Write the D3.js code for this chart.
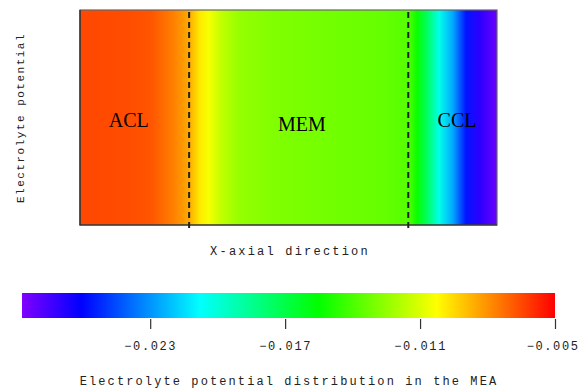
<!DOCTYPE html>
<html>
<head>
<meta charset="utf-8">
<script src="https://cdn.jsdelivr.net/npm/d3@7"></script>
<style>
  body { margin: 0; background: #fff; }
</style>
</head>
<body>
<svg id="chart" width="580" height="389"></svg>
<script>
// positions across the MEA (arbitrary units, ACL | MEM | CCL)
const xPos = [0, 5, 8, 10.5, 12.3, 13.5, 14.5, 16, 18, 22, 28, 34, 37, 38, 39, 40.5, 42, 43.5, 45, 47];
// electrolyte potential at those positions
const potential = [-0.00649, -0.00658, -0.00676, -0.00763, -0.00851, -0.00983, -0.01044, -0.01158,
  -0.01246, -0.01290, -0.01316, -0.01343, -0.01378, -0.01536, -0.01729, -0.02036, -0.02255,
  -0.02563, -0.02694, -0.02826];
const layerBounds = [12.3, 37];
const layerNames = ['ACL', 'MEM', 'CCL'];
const layerCenters = [5.5, 25.0, 42.5];
const potRange = [-0.0287, -0.005];
const cbTicks = [-0.023, -0.017, -0.011, -0.005];

(function() {
  const svg = d3.select('#chart');
  const mono = '"Liberation Mono", "Courier New", monospace';

  // rainbow: violet (low) -> red (high)
  const rainbow = t => d3.hsl(270 * (1 - t), 1, 0.5).formatHex();
  const color = d3.scaleSequential(rainbow).domain(potRange);

  // --- plot area ---
  const L = 80, R = 497, T = 10, B = 225;
  const x = d3.scaleLinear().domain([0, 47]).range([L, R]);

  const defs = svg.append('defs');
  const grad = defs.append('linearGradient').attr('id', 'field')
    .attr('gradientUnits', 'userSpaceOnUse')
    .attr('x1', L).attr('x2', R).attr('y1', 0).attr('y2', 0);
  grad.selectAll('stop').data(xPos).join('stop')
    .attr('offset', d => (x(d) - L) / (R - L))
    .attr('stop-color', (d, i) => color(potential[i]));

  svg.append('rect')
    .attr('x', L).attr('y', T).attr('width', R - L).attr('height', B - T)
    .attr('fill', 'url(#field)');

  // frame
  svg.append('rect')
    .attr('x', L).attr('y', T).attr('width', R - L).attr('height', B - T)
    .attr('fill', 'none').attr('stroke', '#666').attr('stroke-width', 1.2);
  svg.append('path')
    .attr('d', `M${L},${T}V${B}H${R}`)
    .attr('fill', 'none').attr('stroke', '#222').attr('stroke-width', 1.2);

  // layer boundaries
  svg.selectAll('line.bound').data(layerBounds).join('line')
    .attr('class', 'bound')
    .attr('x1', d => x(d)).attr('x2', d => x(d))
    .attr('y1', T + 2).attr('y2', B + 3)
    .attr('stroke', '#222').attr('stroke-width', 2)
    .attr('stroke-dasharray', '6,4');

  svg.selectAll('text.layer').data(layerNames).join('text')
    .attr('class', 'layer')
    .attr('x', (d, i) => x(layerCenters[i]))
    .attr('y', (d, i) => i === 1 ? 131 : 127)
    .attr('text-anchor', 'middle')
    .attr('font-family', '"Liberation Serif", "Times New Roman", serif')
    .attr('font-size', 20)
    .attr('fill', '#000')
    .text(d => d);

  // axis titles
  svg.append('text')
    .attr('transform', 'translate(24,118) rotate(-90)')
    .attr('text-anchor', 'middle')
    .attr('font-family', mono).attr('font-size', 11)
    .attr('letter-spacing', 1.5)
    .attr('fill', '#222')
    .text('Electrolyte potential');

  svg.append('text')
    .attr('x', 290).attr('y', 255)
    .attr('text-anchor', 'middle')
    .attr('font-family', mono).attr('font-size', 12)
    .attr('letter-spacing', 2.2)
    .attr('fill', '#222')
    .text('X-axial direction');

  // --- colour bar ---
  const cbL = 22, cbR = 555, cbT = 293, cbB = 318;
  const cbX = d3.scaleLinear().domain(potRange).range([cbL, cbR]);

  const cgrad = defs.append('linearGradient').attr('id', 'cbar')
    .attr('x1', 0).attr('x2', 1).attr('y1', 0).attr('y2', 0);
  cgrad.selectAll('stop').data(d3.range(0, 1.0001, 1 / 36)).join('stop')
    .attr('offset', d => d)
    .attr('stop-color', d => rainbow(d));

  svg.append('rect')
    .attr('x', cbL).attr('y', cbT).attr('width', cbR - cbL).attr('height', cbB - cbT)
    .attr('fill', 'url(#cbar)');

  const axis = d3.axisBottom(cbX)
    .tickValues(cbTicks)
    .tickSize(10)
    .tickPadding(12)
    .tickFormat(d => d3.format('.3f')(d).replace('-', '\u2212'));
  const ax = svg.append('g')
    .attr('transform', `translate(0,${cbB + 1})`)
    .call(axis);
  ax.select('.domain').remove();
  ax.selectAll('.tick line').attr('stroke', '#333').attr('stroke-width', 1.2);
  ax.selectAll('.tick text')
    .attr('font-family', mono).attr('font-size', 12)
    .attr('letter-spacing', 1.6)
    .attr('fill', '#222');
  // keep the last label inside the window
  ax.selectAll('.tick text').filter(d => d === cbTicks[cbTicks.length - 1])
    .attr('text-anchor', 'end').attr('x', 24);

  svg.append('text')
    .attr('x', 289).attr('y', 385)
    .attr('text-anchor', 'middle')
    .attr('font-family', mono).attr('font-size', 12)
    .attr('letter-spacing', 2.1)
    .attr('fill', '#222')
    .text('Electrolyte potential distribution in the MEA');
})();
</script>
</body>
</html>
